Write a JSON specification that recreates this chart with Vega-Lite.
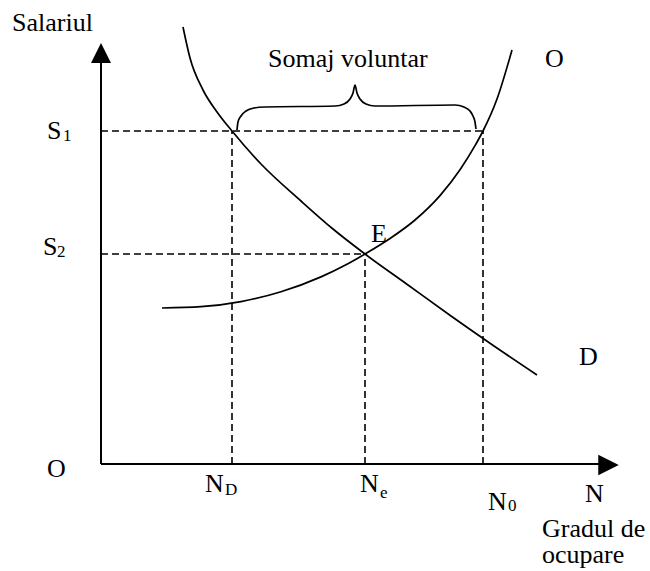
{
  "$schema": "https://vega.github.io/schema/vega-lite/v6.json",
  "width": 650,
  "height": 571,
  "padding": 0,
  "autosize": {"type": "none"},
  "background": "white",
  "config": {"view": {"stroke": null}},
  "datasets": {
    "dashed": [
      {"x": 0, "y": 333, "x2": 382, "y2": 333},
      {"x": 0, "y": 210, "x2": 264, "y2": 210},
      {"x": 131, "y": 0, "x2": 131, "y2": 333},
      {"x": 264, "y": 0, "x2": 264, "y2": 210},
      {"x": 382, "y": 0, "x2": 382, "y2": 333}
    ],
    "axes": [
      {"x": 0, "y": 0, "x2": 0, "y2": 404},
      {"x": 0, "y": 0, "x2": 498, "y2": 0}
    ],
    "arrowUp": [{"x": 0, "y": 411}],
    "arrowRight": [{"x": 507.5, "y": -1}],
    "curves": [
      {"series": "D", "x": 82, "y": 437},
      {"series": "D", "x": 89, "y": 406},
      {"series": "D", "x": 102, "y": 374},
      {"series": "D", "x": 116, "y": 352},
      {"series": "D", "x": 131, "y": 333},
      {"series": "D", "x": 160, "y": 300},
      {"series": "D", "x": 200, "y": 263},
      {"series": "D", "x": 232, "y": 235},
      {"series": "D", "x": 264, "y": 210},
      {"series": "D", "x": 307, "y": 179},
      {"series": "D", "x": 350, "y": 148},
      {"series": "D", "x": 393, "y": 118},
      {"series": "D", "x": 436, "y": 89},
      {"series": "O", "x": 61, "y": 156},
      {"series": "O", "x": 100, "y": 157.3},
      {"series": "O", "x": 140, "y": 162.4},
      {"series": "O", "x": 180, "y": 172.2},
      {"series": "O", "x": 220, "y": 187.1},
      {"series": "O", "x": 245, "y": 199.2},
      {"series": "O", "x": 264, "y": 210},
      {"series": "O", "x": 289, "y": 225.5},
      {"series": "O", "x": 314, "y": 244},
      {"series": "O", "x": 339, "y": 268.4},
      {"series": "O", "x": 359, "y": 294.2},
      {"series": "O", "x": 374, "y": 318.3},
      {"series": "O", "x": 382, "y": 333},
      {"series": "O", "x": 396, "y": 365},
      {"series": "O", "x": 411, "y": 414},
      {"series": "brace", "x": 136, "y": 334},
      {"series": "brace", "x": 137, "y": 342},
      {"series": "brace", "x": 140, "y": 348},
      {"series": "brace", "x": 145, "y": 353},
      {"series": "brace", "x": 153, "y": 356},
      {"series": "brace", "x": 164, "y": 357},
      {"series": "brace", "x": 234, "y": 358},
      {"series": "brace", "x": 243, "y": 360},
      {"series": "brace", "x": 249, "y": 365},
      {"series": "brace", "x": 252, "y": 371},
      {"series": "brace", "x": 254, "y": 379},
      {"series": "brace", "x": 256, "y": 371},
      {"series": "brace", "x": 259, "y": 365},
      {"series": "brace", "x": 265, "y": 360},
      {"series": "brace", "x": 274, "y": 358},
      {"series": "brace", "x": 354, "y": 359},
      {"series": "brace", "x": 363, "y": 357},
      {"series": "brace", "x": 369, "y": 353},
      {"series": "brace", "x": 372, "y": 348},
      {"series": "brace", "x": 374, "y": 342},
      {"series": "brace", "x": 375, "y": 335}
    ],
    "labels": [
      {"label": "Salariul", "x": -89, "y": 433},
      {"label": "Somaj voluntar", "x": 167, "y": 397},
      {"label": "O", "x": 444, "y": 397},
      {"label": "S", "x": -54, "y": 325},
      {"label": "S", "x": -58, "y": 209},
      {"label": "O", "x": -54, "y": -13},
      {"label": "E", "x": 270, "y": 222},
      {"label": "D", "x": 478, "y": 99},
      {"label": "N", "x": 104, "y": -28},
      {"label": "N", "x": 259, "y": -28},
      {"label": "N", "x": 387, "y": -46},
      {"label": "N", "x": 484, "y": -38},
      {"label": "Gradul de\nocupare", "x": 441, "y": -73}
    ],
    "subs": [
      {"label": "1", "x": -38, "y": 323},
      {"label": "2", "x": -44, "y": 207},
      {"label": "D", "x": 124, "y": -31},
      {"label": "e", "x": 279, "y": -34},
      {"label": "0", "x": 407, "y": -47}
    ]
  },
  "layer": [
    {
      "data": {"name": "dashed"},
      "mark": {"type": "rule", "color": "black", "strokeWidth": 1.6, "strokeDash": [7, 4]},
      "encoding": {
        "x": {"field": "x", "type": "quantitative", "scale": {"domain": [-101, 549], "nice": false, "zero": false}, "axis": null},
        "y": {"field": "y", "type": "quantitative", "scale": {"domain": [-107, 464], "nice": false, "zero": false}, "axis": null},
        "x2": {"field": "x2"},
        "y2": {"field": "y2"}
      }
    },
    {
      "data": {"name": "axes"},
      "mark": {"type": "rule", "color": "black", "strokeWidth": 2},
      "encoding": {
        "x": {"field": "x", "type": "quantitative", "axis": null},
        "y": {"field": "y", "type": "quantitative", "axis": null},
        "x2": {"field": "x2"},
        "y2": {"field": "y2"}
      }
    },
    {
      "data": {"name": "arrowUp"},
      "mark": {"type": "point", "shape": "M0,-1L-1,1L1,1Z", "size": 400, "filled": true, "color": "black", "opacity": 1},
      "encoding": {
        "x": {"field": "x", "type": "quantitative", "axis": null},
        "y": {"field": "y", "type": "quantitative", "axis": null}
      }
    },
    {
      "data": {"name": "arrowRight"},
      "mark": {"type": "point", "shape": "M1,0L-1,-1L-1,1Z", "size": 420, "filled": true, "color": "black", "opacity": 1},
      "encoding": {
        "x": {"field": "x", "type": "quantitative", "axis": null},
        "y": {"field": "y", "type": "quantitative", "axis": null}
      }
    },
    {
      "data": {"name": "curves"},
      "mark": {"type": "line", "color": "black", "strokeWidth": 1.7, "interpolate": "monotone"},
      "encoding": {
        "x": {"field": "x", "type": "quantitative", "axis": null},
        "y": {"field": "y", "type": "quantitative", "axis": null},
        "detail": {"field": "series"},
        "order": {"field": "x", "type": "quantitative"}
      }
    },
    {
      "data": {"name": "labels"},
      "mark": {"type": "text", "font": "Liberation Serif", "fontSize": 26, "align": "left", "baseline": "alphabetic", "color": "black", "lineBreak": "\n", "lineHeight": 26},
      "encoding": {
        "x": {"field": "x", "type": "quantitative", "axis": null},
        "y": {"field": "y", "type": "quantitative", "axis": null},
        "text": {"field": "label"}
      }
    },
    {
      "data": {"name": "subs"},
      "mark": {"type": "text", "font": "Liberation Serif", "fontSize": 17, "align": "left", "baseline": "alphabetic", "color": "black"},
      "encoding": {
        "x": {"field": "x", "type": "quantitative", "axis": null},
        "y": {"field": "y", "type": "quantitative", "axis": null},
        "text": {"field": "label"}
      }
    }
  ]
}
